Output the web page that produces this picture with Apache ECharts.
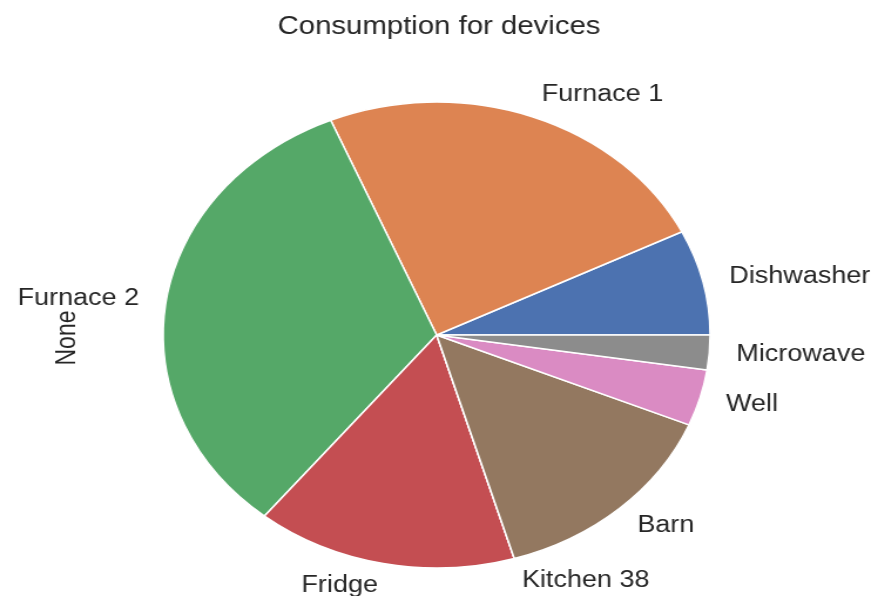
<!DOCTYPE html>
<html>
<head>
<meta charset="utf-8">
<script src="https://cdn.jsdelivr.net/npm/echarts@6/dist/echarts.min.js"></script>
<style>
  html, body { margin: 0; padding: 0; background: #fff; overflow: hidden; }
  /* the reference picture is stretched sideways, so the chart is drawn narrow and scaled */
  #chart {
    width: 748px;
    height: 596px;
    transform: scaleX(1.1738);
    transform-origin: 0 0;
  }
</style>
</head>
<body>
<div id="chart"></div>
<script>
const devices = ['Dishwasher', 'Furnace 1', 'Furnace 2', 'Fridge', 'Kitchen 38', 'Barn', 'Well', 'Microwave']
const consumption = [7.3, 24.0, 32.8, 15.4, 0, 14.1, 3.9, 2.4]
const colors = ['#4C72B0', '#DD8452', '#55A868', '#C44E52', '#8172B3', '#937860', '#DA8BC3', '#8C8C8C']

const textColor = '#262626'
const font = 'Liberation Sans, Arial, sans-serif'

const myChart = echarts.init(document.getElementById('chart'))

myChart.setOption({
  animation: false,
  color: colors,
  title: {
    text: 'Consumption for devices',
    left: 'center',
    top: 10,
    textStyle: { color: textColor, fontSize: 25, fontWeight: 'normal', fontFamily: font }
  },
  graphic: [
    {
      type: 'text',
      x: 58,
      y: 338,
      rotation: Math.PI / 2,
      style: {
        text: 'None',
        fill: textColor,
        fontSize: 23,
        fontFamily: font,
        align: 'center',
        verticalAlign: 'middle'
      }
    }
  ],
  series: [
    {
      type: 'pie',
      center: [372, 335],
      radius: 233,
      startAngle: 0,
      clockwise: false,
      avoidLabelOverlap: false,
      itemStyle: { borderColor: '#fff', borderWidth: 1.5 },
      label: {
        show: true,
        position: 'outside',
        distanceToLabelLine: 0,
        color: textColor,
        fontSize: 23,
        fontFamily: font
      },
      labelLine: { show: false, length: 23, length2: 0 },
      emphasis: { disabled: true },
      data: devices.map((name, i) => ({ name, value: consumption[i] }))
    }
  ]
})
</script>
</body>
</html>
